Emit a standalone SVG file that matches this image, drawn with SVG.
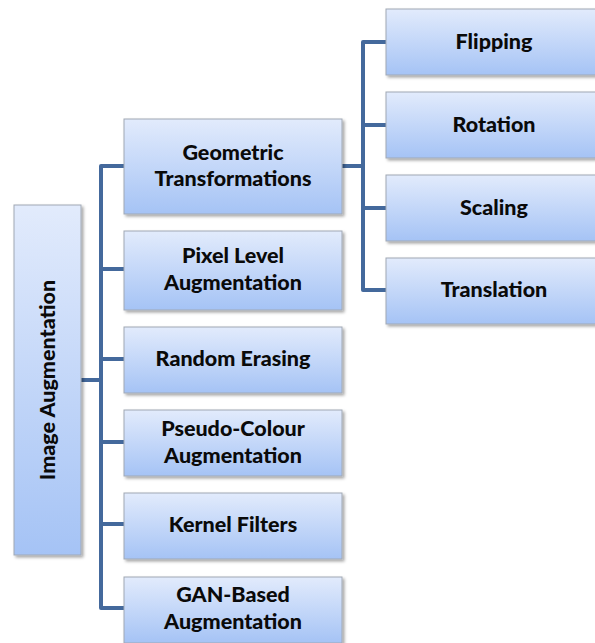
<svg xmlns="http://www.w3.org/2000/svg" width="595" height="643" viewBox="0 0 595 643">
<defs>
<linearGradient id="g" x1="0" y1="0" x2="0" y2="1">
<stop offset="0" stop-color="#e2ebfc"/>
<stop offset="1" stop-color="#a5c3f5"/>
</linearGradient>
<filter id="sh" x="-10%" y="-10%" width="130%" height="130%">
<feDropShadow dx="2" dy="2" stdDeviation="1.5" flood-color="#000" flood-opacity="0.35"/>
</filter>
</defs>
<style>
.box{fill:url(#g);stroke:#a0a8b4;stroke-width:1;filter:url(#sh)}
.t{font-family:Lato,"Liberation Sans",sans-serif;font-weight:900;font-size:21.5px;fill:#0a0a0a;text-anchor:middle;dominant-baseline:central}
.c{fill:none;stroke:#44699c;stroke-width:4;stroke-linejoin:round}
</style>
<g id="connectors">
<path class="c" d="M81 380 H101"/>
<path class="c" d="M124 166 H101 V608 H124"/>
<path class="c" d="M101 269 H124 M101 359 H124 M101 442 H124 M101 524 H124"/>
<path class="c" d="M342 166 H363"/>
<path class="c" d="M386 42 H363 V290 H386"/>
<path class="c" d="M363 125 H386 M363 208 H386"/>
</g>
<g id="root">
<rect class="box" x="14" y="205" width="67" height="350"/>
<text class="t" transform="translate(47 380) rotate(-90)">Image Augmentation</text>
</g>
<g id="geometric">
<rect class="box" x="124" y="119" width="218" height="95"/>
<text class="t" x="233" y="152">Geometric</text>
<text class="t" x="233" y="178">Transformations</text>
</g>
<g id="pixel">
<rect class="box" x="124" y="231" width="218" height="79"/>
<text class="t" x="233" y="255">Pixel Level</text>
<text class="t" x="233" y="282">Augmentation</text>
</g>
<g id="erasing">
<rect class="box" x="124" y="327" width="218" height="66"/>
<text class="t" x="233" y="358">Random Erasing</text>
</g>
<g id="pseudo">
<rect class="box" x="124" y="410" width="218" height="66"/>
<text class="t" x="233" y="428">Pseudo-Colour</text>
<text class="t" x="233" y="455">Augmentation</text>
</g>
<g id="kernel">
<rect class="box" x="124" y="493" width="218" height="66"/>
<text class="t" x="233" y="524">Kernel Filters</text>
</g>
<g id="gan">
<rect class="box" x="124" y="577" width="218" height="66"/>
<text class="t" x="233" y="594">GAN-Based</text>
<text class="t" x="233" y="621">Augmentation</text>
</g>
<g id="flipping">
<rect class="box" x="386" y="9" width="220" height="66"/>
<text class="t" x="494" y="41">Flipping</text>
</g>
<g id="rotation">
<rect class="box" x="386" y="92" width="220" height="66"/>
<text class="t" x="494" y="124">Rotation</text>
</g>
<g id="scaling">
<rect class="box" x="386" y="175" width="220" height="66"/>
<text class="t" x="494" y="207">Scaling</text>
</g>
<g id="translation">
<rect class="box" x="386" y="258" width="220" height="66"/>
<text class="t" x="494" y="289">Translation</text>
</g>
</svg>
